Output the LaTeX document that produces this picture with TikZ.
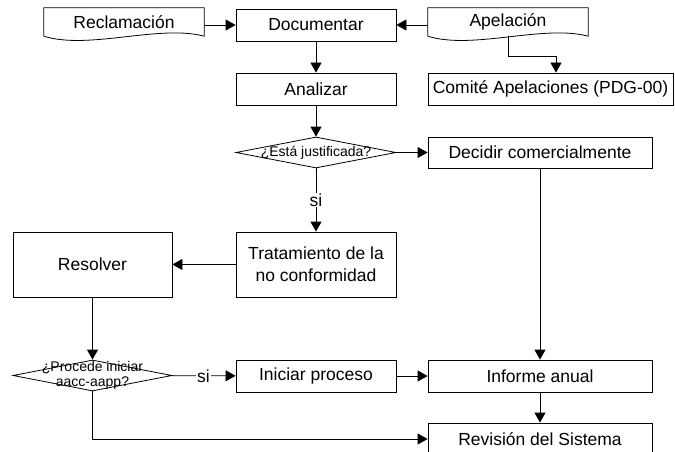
\documentclass[tikz,border=0pt]{standalone}
\usepackage{fontspec}
\setmainfont{Liberation Sans}
\usepackage{tikz}
\usetikzlibrary{arrows.meta}
\usetikzlibrary{positioning}
\usetikzlibrary{shapes.geometric}
\usetikzlibrary{calc}
\tikzstyle{caja}=[draw,rectangle,line width=0.8pt,inner sep=0pt,font=\fontsize{17.5}{22}\selectfont,align=center]
\tikzstyle{documento}=[rectangle,inner sep=0pt,minimum width=160pt,minimum height=28pt,font=\fontsize{17.5}{22}\selectfont]
\newcommand{\docborde}[1]{\draw[linea] (#1.south west) -- (#1.north west) -- (#1.north east) -- (#1.south east) .. controls +(-45,-12) and +(45,14) .. (#1.south west);}

\begin{document}
\begin{tikzpicture}[
  x=1pt,y=-1pt,
  linea/.style={line width=0.8pt},
  flecha/.style={linea,-{Triangle[length=10pt,width=11pt]}},
  normal/.style={caja,minimum width=160pt,minimum height=32pt},
  ancha/.style={caja,minimum width=224pt,minimum height=32pt},
  decision/.style={draw,diamond,line width=0.8pt,inner sep=0pt,minimum width=160pt,minimum height=31pt},
  pregunta/.style={font=\fontsize{14}{15}\selectfont,align=center},
  etiqueta/.style={fill=white,inner sep=1pt,font=\fontsize{17.5}{22}\selectfont},
]
\useasboundingbox (0,0) rectangle (675,452);
% entradas
\node[documento] (recl) at (124,22) {Reclamaci\'on};
\node[documento] (apel) at (508,22) {Apelaci\'on};
\docborde{recl}
\docborde{apel}
\node[normal] (doc) at (316,25) {Documentar};
\node[normal] (anal) at (316,89) {Analizar};
\node[caja,minimum width=245pt,minimum height=32pt] (comite) at (550.5,89) {Comit\'e Apelaciones (PDG-00)};
% decisiones
\node[decision,label={[pregunta]center:¿Está justificada?}] (just) at (316,152.5) {};
\node[ancha,minimum height=31pt] (decidir) at (540,152.5) {Decidir comercialmente};
\node[normal,minimum height=65pt] (trat) at (316,264.5) {Tratamiento de la\\no conformidad};
\node[normal,minimum width=159pt,minimum height=65pt] (resol) at (92.5,264.5) {Resolver};
\node[decision,minimum width=159pt,label={[pregunta]center:¿Procede iniciar\\aacc-aapp?}] (proc) at (92.5,375.5) {};
\node[normal] (inic) at (316,376) {Iniciar proceso};
\node[ancha] (inf) at (540,376) {Informe anual};
\node[ancha] (rev) at (540,439) {Revisi\'on del Sistema};

\draw[flecha] (recl.east |- doc.west) -- (doc.west);
\draw[flecha] (apel.west |- doc.east) -- (doc.east);
\draw[flecha] (apel.south) -- ++(0,20) -| ([xshift=5.5pt]comite.north);
\draw[flecha] (doc) -- (anal);
\draw[flecha] (anal) -- (just);
\draw[flecha] (just) -- (decidir);
\draw[flecha] (just) -- node[etiqueta] {si} (trat);
\draw[flecha] (trat) -- (resol);
\draw[flecha] (resol) -- (proc);
\draw[flecha] (proc) -- node[etiqueta] {si} (inic);
\draw[flecha] (inic) -- (inf);
\draw[flecha] (decidir) -- (inf);
\draw[flecha] (inf) -- (rev);
\draw[flecha] (proc.south) |- (rev.west);
\end{tikzpicture}
\end{document}
